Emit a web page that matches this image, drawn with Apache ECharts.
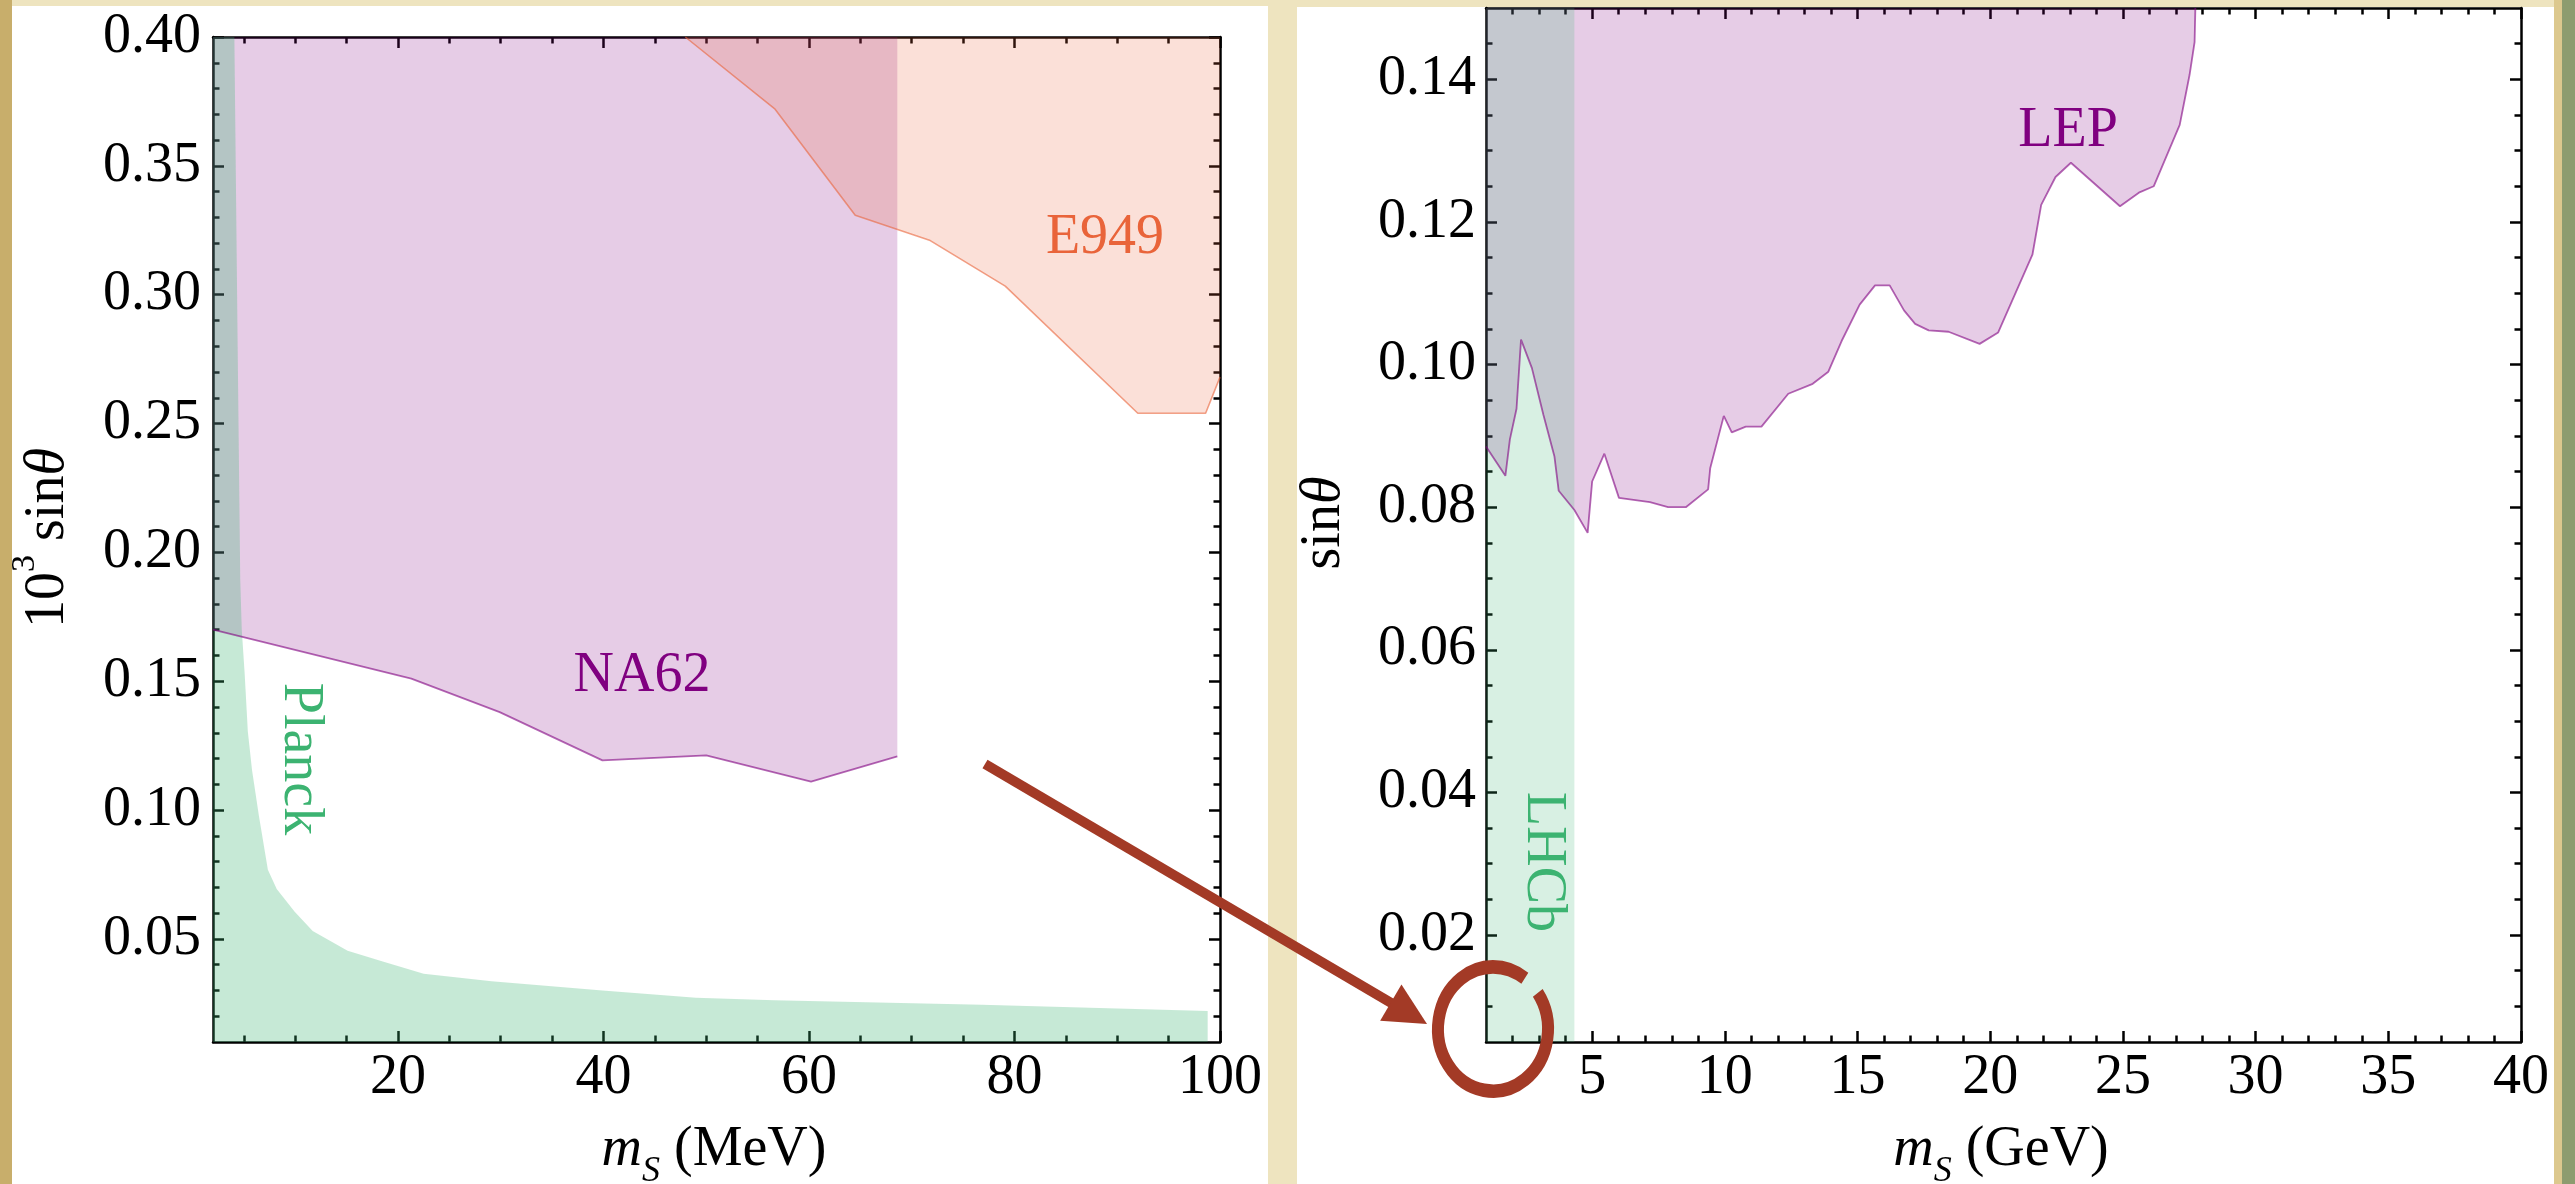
<!DOCTYPE html>
<html><head><meta charset="utf-8">
<script src="https://cdn.jsdelivr.net/npm/echarts@6/dist/echarts.min.js"></script>
<style>
html,body{margin:0;padding:0;}
#wrap{position:relative;width:2575px;height:1184px;overflow:hidden;background:#eee4bf;}
.blk{position:absolute;}
#chart{position:absolute;left:0;top:0;width:2575px;height:1184px;}
</style></head><body>
<div id="wrap">
 <div class="blk" style="left:0;top:0;width:12px;height:1184px;background:#c8ae6b"></div>
 <div class="blk" style="left:2554px;top:0;width:9px;height:1184px;background:#dcc88e"></div>
 <div class="blk" style="left:2562px;top:0;width:13px;height:1184px;background:#8d9c6f"></div>
 <div class="blk" style="left:12px;top:6px;width:1256px;height:1178px;background:#fff"></div>
 <div class="blk" style="left:1297px;top:7px;width:1257px;height:1177px;background:#fff"></div>
 <div id="chart"></div>
</div>
<script>
// ---------- data (left panel: m_S in MeV, 10^3 sin(theta)) ----------
const na62 = [[2,0.170],[21.3,0.151],[29.9,0.138],[39.9,0.1193],[50.0,0.1212],[60.2,0.111],[68.6,0.1208]];
const e949 = [[47.96,0.40],[56.7,0.372],[64.5,0.3308],[71.8,0.321],[79.1,0.3033],[92.0,0.254],[98.6,0.254],[100,0.268]];
const planck = [[2,0.40],[4.08,0.40],[4.4,0.28],[4.65,0.19],[4.8,0.17],[5.08,0.153],[5.39,0.1305],[5.8,0.1155],
  [6.47,0.0977],[7.34,0.0768],[8.2,0.0694],[9.95,0.0605],[11.7,0.0531],[15.1,0.0454],[18.6,0.0411],[22.5,0.0365],
  [29.1,0.0336],[39.9,0.030],[49,0.0272],[56.6,0.0262],[76.8,0.0245],[98.8,0.022]];
// ---------- data (right panel: m_S in GeV, sin(theta)) ----------
const lep = [[1.0,0.0885],[1.73,0.0844],[1.90,0.0895],[2.15,0.0938],[2.32,0.1035],[2.73,0.0995],[3.16,0.0930],
  [3.58,0.0871],[3.74,0.0823],[4.33,0.0796],[4.83,0.0764],[5.0,0.0836],[5.46,0.0875],[6.01,0.0813],[7.18,0.0807],
  [7.86,0.0800],[8.53,0.0800],[9.37,0.0825],[9.45,0.0855],[9.96,0.0928],[10.26,0.0905],[10.79,0.0913],[11.38,0.0913],
  [12.39,0.0959],[13.31,0.0973],[13.9,0.0990],[14.4,0.1033],[15.08,0.1084],[15.66,0.1111],[16.21,0.1111],
  [16.75,0.1076],[17.17,0.1057],[17.68,0.1048],[18.43,0.1046],[19.6,0.1029],[20.3,0.1045],[21.59,0.1154],
  [21.92,0.1224],[22.46,0.1263],[23.04,0.1283],[24.89,0.1222],[25.6,0.1241],[26.16,0.1250],[27.14,0.1336],
  [27.51,0.1406],[27.7,0.1452],[27.73,0.15]];
const lhcb = [[1,0.15],[4.33,0.15]];
// ---------- ticks ----------
const lxMajor = [20,40,60,80,100];
const lxMinor = [5,10,15,25,30,35,45,50,55,65,70,75,85,90,95];
const lyMajor = [0.05,0.10,0.15,0.20,0.25,0.30,0.35,0.40];
const lyMinor = [0.02,0.03,0.04,0.06,0.07,0.08,0.09,0.11,0.12,0.13,0.14,0.16,0.17,0.18,0.19,0.21,0.22,0.23,0.24,
  0.26,0.27,0.28,0.29,0.31,0.32,0.33,0.34,0.36,0.37,0.38,0.39];
const rxMajor = [5,10,15,20,25,30,35,40];
const rxMinor = [2,3,4,6,7,8,9,11,12,13,14,16,17,18,19,21,22,23,24,26,27,28,29,31,32,33,34,36,37,38,39];
const ryMajor = [0.02,0.04,0.06,0.08,0.10,0.12,0.14];
const ryMinor = [0.01,0.015,0.025,0.03,0.035,0.045,0.05,0.055,0.065,0.07,0.075,0.085,0.09,0.095,0.105,0.11,0.115,
  0.125,0.13,0.135,0.145];

const FONT = '"Liberation Serif", "Times New Roman", serif';
const FS = 56;
const PURPLE = 'rgba(128,0,128,0.2)', PURPLE_LINE = 'rgba(128,0,128,0.6)';
const ORANGE = 'rgba(233,100,58,0.2)', ORANGE_LINE = 'rgba(233,100,58,0.6)';

function ax(gridIndex, position, min, max, ticks, len, labels, margin, showLine, fmt) {
  return {
    type: 'value', gridIndex, position, min, max, scale: true,
    axisLine: {show: showLine, onZero: false, lineStyle: {color: '#000', width: 2.5}},
    axisTick: {show: true, inside: true, length: len, customValues: ticks, lineStyle: {color: '#000', width: 2.5}},
    axisLabel: labels ? {show: true, customValues: labels, margin: margin, fontFamily: FONT, fontSize: FS,
      color: '#000', formatter: fmt} : {show: false},
    splitLine: {show: false}
  };
}
const fInt = v => String(Math.round(v));
const f2 = v => v.toFixed(2);

const L = {left: 213, top: 37, width: 1007, height: 1005};
const R = {left: 1486, top: 8, width: 1035, height: 1034};

const chart = echarts.init(document.getElementById('chart'), null, {renderer: 'canvas'});
const option = {
  animation: false,
  backgroundColor: 'transparent',
  grid: [Object.assign({}, L), Object.assign({}, L), Object.assign({}, R), Object.assign({}, R)],
  xAxis: [
    ax(0, 'bottom', 2, 100, lxMajor, 11, lxMajor, 8, true, fInt),
    ax(0, 'top', 2, 100, lxMajor, 11, null, 0, true),
    ax(1, 'bottom', 2, 100, lxMinor, 6.5, null, 0, false),
    ax(1, 'top', 2, 100, lxMinor, 6.5, null, 0, false),
    ax(2, 'bottom', 1, 40, rxMajor, 11, rxMajor, 8, true, fInt),
    ax(2, 'top', 1, 40, rxMajor, 11, null, 0, true),
    ax(3, 'bottom', 1, 40, rxMinor, 6.5, null, 0, false),
    ax(3, 'top', 1, 40, rxMinor, 6.5, null, 0, false)
  ],
  yAxis: [
    ax(0, 'left', 0.01, 0.40, lyMajor, 11, lyMajor, 12, true, f2),
    ax(0, 'right', 0.01, 0.40, lyMajor, 11, null, 0, true),
    ax(1, 'left', 0.01, 0.40, lyMinor, 6.5, null, 0, false),
    ax(1, 'right', 0.01, 0.40, lyMinor, 6.5, null, 0, false),
    ax(2, 'left', 0.005, 0.15, ryMajor, 11, ryMajor, 10, true, f2),
    ax(2, 'right', 0.005, 0.15, ryMajor, 11, null, 0, true),
    ax(3, 'left', 0.005, 0.15, ryMinor, 6.5, null, 0, false),
    ax(3, 'right', 0.005, 0.15, ryMinor, 6.5, null, 0, false)
  ],
  series: [
    {name: 'NA62', type: 'line', xAxisIndex: 0, yAxisIndex: 0, data: na62, symbol: 'none', silent: true,
      lineStyle: {color: PURPLE_LINE, width: 1.8}, areaStyle: {color: PURPLE, origin: 'end', opacity: 1}},
    {name: 'E949', type: 'line', xAxisIndex: 0, yAxisIndex: 0, data: e949, symbol: 'none', silent: true,
      lineStyle: {color: ORANGE_LINE, width: 1.6}, areaStyle: {color: ORANGE, origin: 'end', opacity: 1}},
    {name: 'Planck', type: 'line', xAxisIndex: 0, yAxisIndex: 0, data: planck, symbol: 'none', silent: true,
      lineStyle: {width: 0, opacity: 0}, areaStyle: {color: 'rgba(60,179,113,0.29)', origin: 'start', opacity: 1}},
    {name: 'LEP', type: 'line', xAxisIndex: 4, yAxisIndex: 4, data: lep, symbol: 'none', silent: true,
      lineStyle: {color: PURPLE_LINE, width: 1.8}, areaStyle: {color: PURPLE, origin: 'end', opacity: 1}},
    {name: 'LHCb', type: 'line', xAxisIndex: 4, yAxisIndex: 4, data: lhcb, symbol: 'none', silent: true,
      lineStyle: {width: 0, opacity: 0}, areaStyle: {color: 'rgba(60,179,113,0.2)', origin: 'start', opacity: 1}}
  ]
};
chart.setOption(option);

// ---------- text labels & annotations ----------
const rich = {
  n: {fontFamily: FONT, fontSize: FS, lineHeight: 80, fill: '#000'},
  i: {fontFamily: FONT, fontSize: FS, fontStyle: 'italic', lineHeight: 80, fill: '#000'},
  sup: {fontFamily: FONT, fontSize: 34, verticalAlign: 'top', fill: '#000'},
  sub: {fontFamily: FONT, fontSize: 36, fontStyle: 'italic', verticalAlign: 'bottom', fill: '#000'}
};
function label(text, x, y, color, rot) {
  return {type: 'text', x, y, rotation: rot || 0, z: 100, silent: true,
    style: {text, fill: color, fontFamily: FONT, fontSize: FS, align: 'center', verticalAlign: 'middle'}};
}
function rtext(text, x, y, rot) {
  return {type: 'text', x, y, rotation: rot || 0, z: 100, silent: true,
    style: {text, rich, align: 'center', verticalAlign: 'middle', fontFamily: FONT, fontSize: FS, fill: '#000'}};
}
const ARROW = '#a33a26';
const tip = [1427, 1024], start = [985, 764];
const dx = tip[0] - start[0], dy = tip[1] - start[1], dl = Math.hypot(dx, dy);
const ux = dx / dl, uy = dy / dl, hl = 42, hw = 21;
const base = [tip[0] - hl * ux, tip[1] - hl * uy];
chart.setOption({
  graphic: [
    label('NA62', 642, 676, '#800080'),
    label('E949', 1105, 238, '#e9643a'),
    label('Planck', 300, 759, '#3cb371', -Math.PI / 2),
    label('LHCb', 1543, 862, '#3cb371', -Math.PI / 2),
    label('LEP', 2068, 131, '#800080'),
    rtext('{n|10}{sup|3}{n| sin}{i|θ}', 48, 538, Math.PI / 2),
    rtext('{n|sin}{i|θ}', 1324, 523, Math.PI / 2),
    rtext('{i|m}{sub|S}{n| (MeV)}', 714, 1150),
    rtext('{i|m}{sub|S}{n| (GeV)}', 2001, 1150),
    {type: 'line', z: 120, silent: true, shape: {x1: start[0], y1: start[1], x2: base[0] + ux * 4, y2: base[1] + uy * 4},
      style: {stroke: ARROW, lineWidth: 10}},
    {type: 'polygon', z: 120, silent: true, shape: {points: [tip,
      [base[0] - hw * uy, base[1] + hw * ux], [base[0] + hw * uy, base[1] - hw * ux]]}, style: {fill: ARROW}},
    {type: 'arc', z: 120, silent: true, x: 1493, y: 1029, scaleY: 1.13,
      shape: {cx: 0, cy: 0, r: 55, startAngle: -0.62, endAngle: 5.33, clockwise: true},
      style: {stroke: ARROW, lineWidth: 12, fill: null}}
  ]
});
</script>
</body></html>
